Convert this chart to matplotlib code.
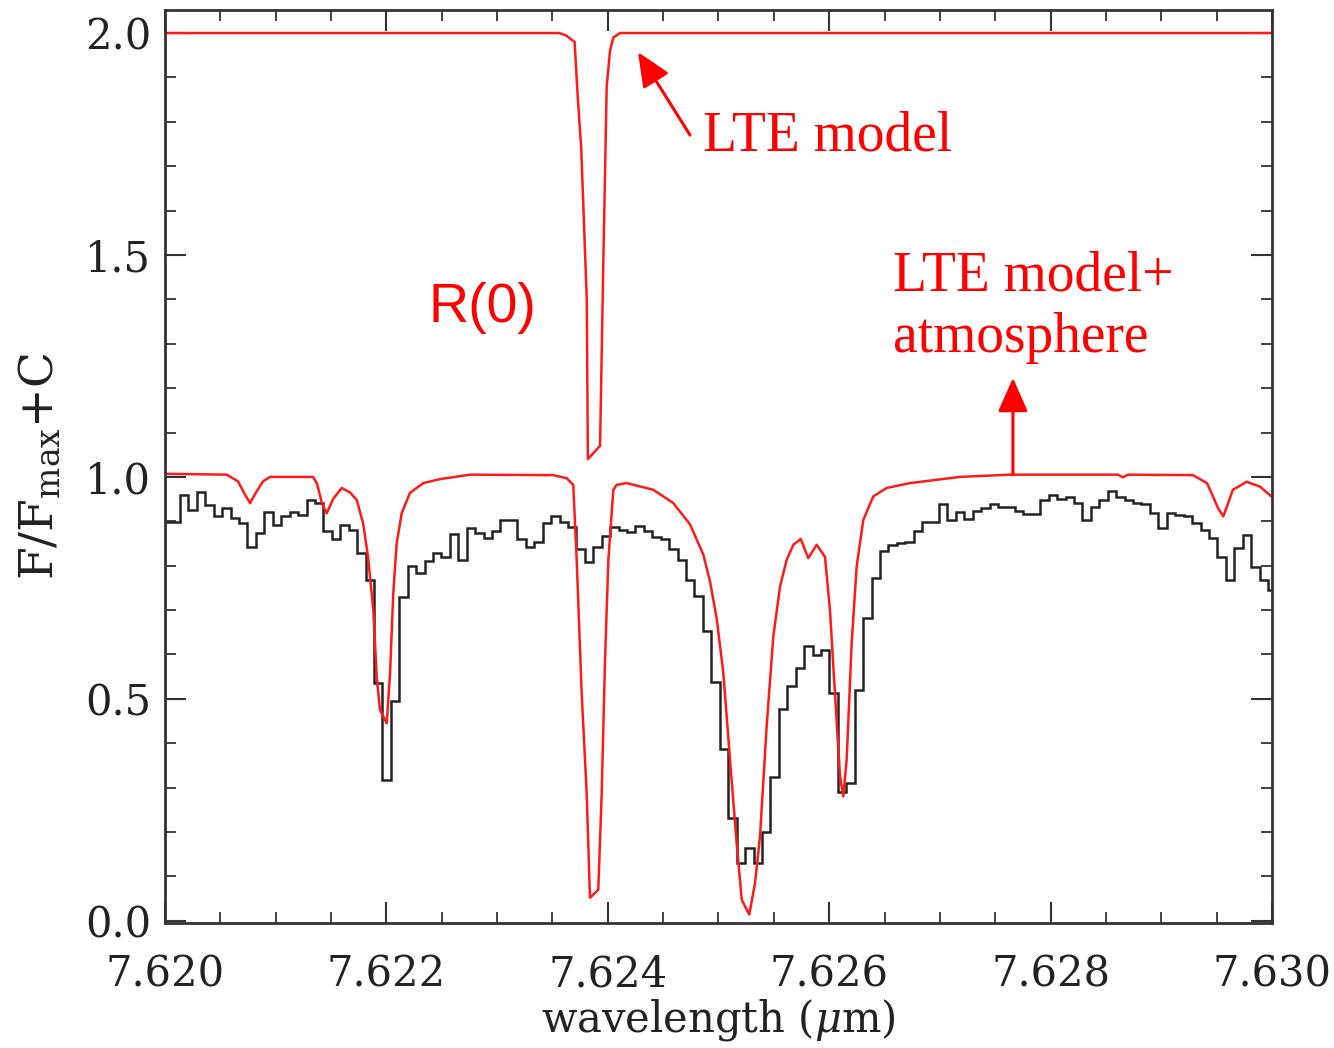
import numpy as np
import matplotlib
matplotlib.use("Agg")
import matplotlib.pyplot as plt
from matplotlib.ticker import MultipleLocator, FormatStrFormatter

plt.rcParams["mathtext.fontset"] = "dejavuserif"

# ---------------- data ----------------
# observed spectrum (histogram), uniform bins
obs_start = 7.619983     # left edge of first bin (um)
obs_step = 7.619e-5      # bin width (um)
obs_flux = [0.899, 0.899, 0.959, 0.926, 0.965, 0.937, 0.911, 0.930, 0.907, 0.896,
            0.843, 0.874, 0.920, 0.892, 0.911, 0.922, 0.915, 0.947, 0.941, 0.877,
            0.860, 0.892, 0.881, 0.829, 0.768, 0.536, 0.318, 0.496, 0.730, 0.800,
            0.784, 0.811, 0.828, 0.820, 0.871, 0.813, 0.885, 0.874, 0.863, 0.877,
            0.903, 0.903, 0.860, 0.843, 0.854, 0.897, 0.911, 0.899, 0.888, 0.838,
            0.809, 0.843, 0.866, 0.888, 0.881, 0.875, 0.890, 0.877, 0.865, 0.859,
            0.838, 0.813, 0.768, 0.731, 0.652, 0.537, 0.386, 0.231, 0.130, 0.164,
            0.130, 0.201, 0.325, 0.477, 0.528, 0.569, 0.619, 0.599, 0.610, 0.513,
            0.291, 0.310, 0.520, 0.682, 0.772, 0.832, 0.847, 0.851, 0.854, 0.877,
            0.899, 0.899, 0.939, 0.904, 0.920, 0.906, 0.924, 0.929, 0.939, 0.933,
            0.933, 0.924, 0.916, 0.916, 0.948, 0.959, 0.950, 0.955, 0.942, 0.903,
            0.932, 0.948, 0.969, 0.954, 0.948, 0.942, 0.939, 0.918, 0.884, 0.918,
            0.915, 0.913, 0.897, 0.881, 0.862, 0.819, 0.768, 0.839, 0.869, 0.796,
            0.768, 0.745]

# LTE model + atmosphere (lower red curve)
atm_lam = [7.620000, 7.620557, 7.620659, 7.620723, 7.620768, 7.620822, 7.620885, 7.620949,
           7.621337, 7.621373, 7.621418, 7.621461, 7.621518, 7.621596, 7.621671, 7.621732,
           7.621789, 7.621834, 7.621882, 7.621912, 7.621942, 7.622003, 7.622033, 7.622062,
           7.622093, 7.622138, 7.622213, 7.622333, 7.622484, 7.622755, 7.623505, 7.623629,
           7.623688, 7.623719, 7.623764, 7.623809, 7.623839, 7.623914, 7.623945, 7.623975,
           7.624005, 7.624050, 7.624080, 7.624171, 7.624411, 7.624592, 7.624743, 7.624863,
           7.624923, 7.624984, 7.625043, 7.625104, 7.625164, 7.625210, 7.625278, 7.625330,
           7.625375, 7.625435, 7.625495, 7.625556, 7.625616, 7.625676, 7.625743, 7.625811,
           7.625887, 7.625962, 7.626007, 7.626052, 7.626098, 7.626127, 7.626158, 7.626203,
           7.626248, 7.626308, 7.626398, 7.626519, 7.626730, 7.627182, 7.627633, 7.628609,
           7.628654, 7.628699, 7.629286, 7.629413, 7.629467, 7.629512, 7.629560, 7.629603,
           7.629647, 7.629771, 7.629892, 7.630000]
atm_flux = [1.007, 1.005, 0.990, 0.960, 0.941, 0.965, 0.990, 1.000,
            1.000, 0.985, 0.940, 0.918, 0.950, 0.975, 0.965, 0.948,
            0.896, 0.820, 0.700, 0.550, 0.475, 0.445, 0.558, 0.738,
            0.851, 0.918, 0.964, 0.986, 0.995, 1.005, 1.004, 0.997,
            0.982, 0.813, 0.513, 0.288, 0.052, 0.070, 0.288, 0.588,
            0.813, 0.971, 0.982, 0.986, 0.971, 0.941, 0.893, 0.825,
            0.765, 0.680, 0.560, 0.363, 0.175, 0.047, 0.014, 0.085,
            0.190, 0.438, 0.640, 0.753, 0.813, 0.847, 0.860, 0.817,
            0.847, 0.820, 0.700, 0.513, 0.325, 0.280, 0.363, 0.625,
            0.798, 0.903, 0.956, 0.975, 0.986, 1.000, 1.005, 1.005,
            0.999, 1.005, 1.004, 0.986, 0.956, 0.930, 0.911, 0.940,
            0.971, 0.989, 0.978, 0.955]

# LTE model alone (upper red curve, offset by +1)
lte_lam = [7.62000, 7.62356, 7.62362, 7.62370, 7.62373, 7.62376, 7.62381, 7.62382,
           7.62393, 7.62396, 7.62399, 7.62402, 7.62405, 7.62411, 7.63000]
lte_flux = [2.000, 2.000, 1.995, 1.980, 1.850, 1.740, 1.400, 1.040,
            1.070, 1.490, 1.880, 1.960, 1.990, 2.000, 2.000]

x_ticks = [7.620, 7.622, 7.624, 7.626, 7.628, 7.630]
y_ticks = [0.0, 0.5, 1.0, 1.5, 2.0]

# ---------------- figure ----------------
fig = plt.figure(figsize=(13.34, 10.48), dpi=100)
ax = fig.add_axes([0.1237, 0.1193, 0.9535 - 0.1237, 0.9905 - 0.1193])

edges = obs_start + obs_step * np.arange(len(obs_flux) + 1)
ax.stairs(obs_flux, edges, color="#222222", lw=1.8)
ax.plot(atm_lam, atm_flux, color="#ff1a1a", lw=1.8)
ax.plot(lte_lam, lte_flux, color="#ff1a1a", lw=1.8)

ax.set_xlim(7.620, 7.630)
ax.set_ylim(-0.005, 2.052)
ax.set_xticks(x_ticks)
ax.set_yticks(y_ticks)
ax.xaxis.set_major_formatter(FormatStrFormatter("%.3f"))
ax.yaxis.set_major_formatter(FormatStrFormatter("%.1f"))
ax.xaxis.set_minor_locator(MultipleLocator(0.0005))
ax.yaxis.set_minor_locator(MultipleLocator(0.1))

ax.tick_params(which="both", direction="in", top=True, right=True,
               colors="#333333", labelcolor="#222222")
ax.tick_params(which="major", length=15, width=1.5)
ax.tick_params(which="minor", length=8, width=1.3)
ax.tick_params(axis="x", which="major", pad=22)
ax.tick_params(axis="y", which="major", pad=10)
for lab in ax.get_xticklabels() + ax.get_yticklabels():
    lab.set_fontfamily("DejaVu Serif")
    lab.set_fontsize(30)
for sp in ax.spines.values():
    sp.set_color("#333333")
    sp.set_linewidth(2)

ax.set_xlabel("wavelength ($\\mu$m)", fontfamily="DejaVu Serif", fontsize=30,
              color="#222222", labelpad=1)
ax.set_ylabel("F/F$_{\\rm max}$+C", fontfamily="DejaVu Serif", fontsize=34,
              color="#222222", labelpad=16)

red = "#ff0000"
ax.text(7.624860, 1.736, "LTE model", color=red, fontfamily="Liberation Serif",
        fontsize=40, va="baseline", ha="left")
ax.annotate("", xy=(7.624273, 1.957), xytext=(7.624743, 1.770),
            arrowprops=dict(arrowstyle="-|>,head_length=0.95,head_width=0.42",
                            color=red, lw=2.2, mutation_scale=22, shrinkA=0, shrinkB=0))
ax.text(7.622376, 1.349, "R(0)", color=red, fontfamily="Liberation Sans",
        fontsize=40, va="baseline", ha="left")
ax.text(7.626576, 1.421, "LTE model+", color=red, fontfamily="Liberation Serif",
        fontsize=40, va="baseline", ha="left")
ax.text(7.626576, 1.2815, "atmosphere", color=red, fontfamily="Liberation Serif",
        fontsize=40, va="baseline", ha="left")
ax.annotate("", xy=(7.627660, 1.223), xytext=(7.627660, 1.005),
            arrowprops=dict(arrowstyle="-|>,head_length=0.95,head_width=0.42",
                            color=red, lw=2.2, mutation_scale=22, shrinkA=0, shrinkB=0))

fig.savefig("out.png", dpi=100)
